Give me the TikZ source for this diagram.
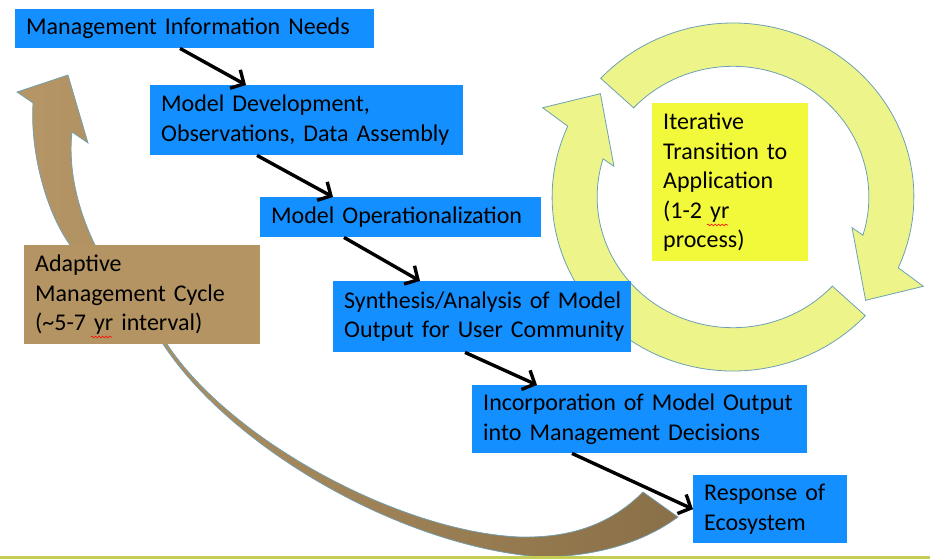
\documentclass[tikz,border=0pt]{standalone}
\usepackage{fontspec}
\setmainfont{Carlito}
\usetikzlibrary{arrows.meta,decorations.pathmorphing,calc}
\definecolor{boxblue}{RGB}{20,143,255}
\definecolor{boxtan}{RGB}{180,148,98}
\definecolor{boxyellow}{RGB}{242,248,58}
\definecolor{ringyellow}{RGB}{237,245,138}
\definecolor{edgeblue}{RGB}{110,160,180}
\definecolor{brownL}{RGB}{182,150,102}
\definecolor{brownR}{RGB}{138,112,72}
\definecolor{rulegreen}{RGB}{196,206,84}
\begin{document}
\begin{tikzpicture}[x=1pt,y=-1pt,
  txt/.style={font=\fontsize{24}{29.5}\selectfont, text=black, align=left, inner xsep=11pt, inner ysep=0pt, anchor=north west},
  bluebox/.style={txt, fill=boxblue},
  tanbox/.style={txt, fill=boxtan},
  yelbox/.style={txt, fill=boxyellow},
  flow/.style={line width=3.4pt, -{Straight Barb[length=10pt,width=21pt]}},
  ring/.style={fill=ringyellow, draw=edgeblue, line width=0.8pt},
  squig/.style={red, line width=0.6pt, decorate, decoration={snake, amplitude=0.9pt, segment length=3.5pt}}
]
\useasboundingbox (0,0) rectangle (930,559);

% brown adaptive-cycle arrow
\path[draw=edgeblue, line width=0.7pt, left color=brownL, right color=brownR]
  (643,492) .. controls (610,525) and (570,538) .. (520,537)
  .. controls (400,532) and (230,440) .. (167,344)
  .. controls (130,300) and (100,270) .. (95,245)
  .. controls (78,210) and (68,170) .. (72,132)
  -- (88,143) -- (68,75) -- (17,92) -- (33,103)
  .. controls (30,150) and (45,210) .. (70,245)
  .. controls (95,280) and (125,310) .. (163,344)
  .. controls (228,444) and (395,545) .. (540,557)
  .. controls (590,557) and (640,545) .. (678,517)
  -- cycle;

% yellow circular arrows
\def\cx{733}\def\cy{197}
\coordinate (aob) at ({\cx+1.34*158*cos(-26)},{\cy-1.34*152*sin(-26)});
\coordinate (atip) at ({\cx+1.08*158*cos(-39)},{\cy-1.08*152*sin(-39)});
\coordinate (aib) at ({\cx+0.78*158*cos(-15)},{\cy-0.78*152*sin(-15)});
\coordinate (bob) at ({\cx+1.34*158*cos(154)},{\cy-1.34*152*sin(154)});
\coordinate (btip) at ({\cx+1.08*158*cos(141)},{\cy-1.08*152*sin(141)});
\coordinate (bib) at ({\cx+0.78*158*cos(165)},{\cy-0.78*152*sin(165)});
\path[ring] plot[domain=137:-24,samples=60] ({\cx+1.145*158*cos(\x)},{\cy-1.145*152*sin(\x)})
  -- (aob) -- (atip) -- (aib)
  -- plot[domain=-17:137,samples=60] ({\cx+0.86*158*cos(\x)},{\cy-0.86*152*sin(\x)}) -- cycle;
\path[ring] plot[domain=-43:-204,samples=60] ({\cx+1.145*158*cos(\x)},{\cy-1.145*152*sin(\x)})
  -- (bob) -- (btip) -- (bib)
  -- plot[domain=-197:-43,samples=60] ({\cx+0.86*158*cos(\x)},{\cy-0.86*152*sin(\x)}) -- cycle;

% boxes
\node[bluebox, text width=337pt, minimum height=39pt] (n1) at (15,9) {\mbox{Management Information Needs}};
\node[bluebox, text width=291pt, minimum height=70pt] (n2) at (150,85) {\mbox{Model Development,}\\\mbox{Observations, Data Assembly}};
\node[bluebox, text width=259pt, minimum height=40pt] (n3) at (260,197) {\mbox{Model Operationalization}};
\node[bluebox, text width=276pt, minimum height=71pt] (n4) at (333,281) {\mbox{Synthesis/Analysis of Model}\\\mbox{Output for User Community}};
\node[bluebox, text width=313pt, minimum height=68pt] (n5) at (472,385) {\mbox{Incorporation of Model Output}\\\mbox{into Management Decisions}};
\node[bluebox, text width=132pt, minimum height=68pt] (n6) at (693,475) {\mbox{Response of}\\\mbox{Ecosystem}};
\node[tanbox, text width=214pt, minimum height=99pt] (amc) at (24,245) {\mbox{Adaptive}\\\mbox{Management Cycle}\\\mbox{(\char`~5-7 yr interval)}};
\node[yelbox, text width=134pt, minimum height=158pt] (itr) at (652,103) {\mbox{Iterative}\\\mbox{Transition to}\\\mbox{Application}\\\mbox{(1-2 yr}\\\mbox{process)}};

% flow arrows
\draw[flow] ($(n1.south west)+(165,0)$) -- ($(n2.north west)+(96,0)$);
\draw[flow] ($(n2.south west)+(107,0)$) -- ($(n3.north west)+(73,0)$);
\draw[flow] ($(n3.south west)+(84,0)$) -- ($(n4.north west)+(87,0)$);
\draw[flow] ($(n4.south west)+(132,0)$) -- ($(n5.north west)+(65,0)$);
\draw[flow] ($(n5.south west)+(100,0)$) -- (n6.west);

% spell-check squiggles
\coordinate (s1a) at (91,337); \coordinate (s1b) at (112,337);
\coordinate (s2a) at (707,225); \coordinate (s2b) at (728,225);
\draw[squig] (s1a) -- (s1b);
\draw[squig] (s2a) -- (s2b);

% bottom rule
\coordinate (bl) at (0,557.5); \coordinate (br) at (930,557.5);
\draw[draw=rulegreen, line width=3pt] (bl) -- (br);
\end{tikzpicture}
\end{document}
